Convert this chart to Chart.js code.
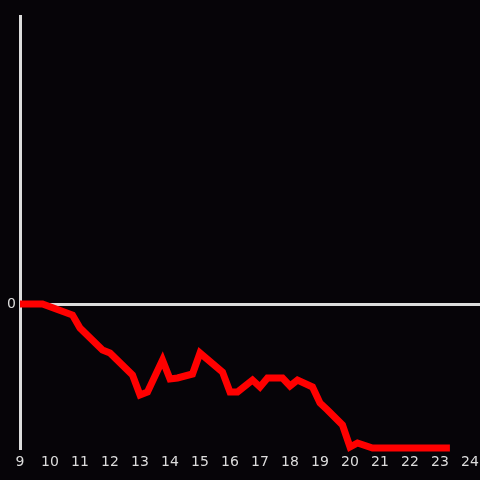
<!DOCTYPE html>
<html>
<head>
<meta charset="utf-8">
<script src="https://cdn.jsdelivr.net/npm/chart.js@4/dist/chart.umd.min.js"></script>
<style>
  html, body { margin: 0; padding: 0; background: #060408; }
  #wrap { width: 480px; height: 480px; }
</style>
</head>
<body>
<div id="wrap"><canvas id="chart"></canvas></div>
<script>
// hours of the day and the value at each point
const hours = [9, 9.75, 10.75, 11, 11.75, 12, 12.75, 13, 13.25, 13.75, 14, 14.25, 14.75, 15,
  15.75, 16, 16.25, 16.75, 17, 17.25, 17.75, 18, 18.25, 18.75, 19, 19.25, 19.75, 20, 20.25,
  20.75, 23.33];
const values = [0, 0, -11, -24, -46, -49, -71, -91, -88, -56, -75, -74, -70, -49,
  -68, -88, -88, -76, -83, -74, -74, -82, -76, -83, -99, -106, -121, -143, -139,
  -144, -144];
const yTicks = [0];

const points = hours.map((h, i) => ({ x: h, y: values[i] }));
const axisColor = '#dcdcdc';

new Chart(document.getElementById('chart'), {
  type: 'line',
  data: {
    datasets: [{
      data: points,
      borderColor: '#ff0000',
      borderWidth: 7,
      pointRadius: 0,
      tension: 0,
      clip: false,
    }],
  },
  options: {
    responsive: true,
    maintainAspectRatio: false,
    animation: false,
    layout: { padding: { top: 16, left: 0, right: 0, bottom: 0 } },
    plugins: { legend: { display: false }, tooltip: { enabled: false } },
    scales: {
      x: {
        type: 'linear',
        min: 9,
        max: 24 + 1 / 3,
        afterBuildTicks: (axis) => {
          axis.ticks = [];
          for (let h = 9; h <= 24; h++) axis.ticks.push({ value: h });
        },
        afterFit: (axis) => { axis.height = 32; },
        grid: { display: false, tickLength: 6 },
        border: { display: false },
        ticks: {
          color: axisColor,
          font: { family: 'DejaVu Sans', size: 14 },
          padding: 0,
          maxRotation: 0,
        },
      },
      y: {
        min: -144,
        max: 288,
        afterBuildTicks: (axis) => { axis.ticks = yTicks.map(v => ({ value: v })); },
        afterFit: (axis) => { axis.width = 20; },
        grid: {
          color: axisColor,
          lineWidth: 3,
          drawTicks: false,
        },
        border: { display: true, color: axisColor, width: 3 },
        ticks: {
          color: axisColor,
          font: { family: 'DejaVu Sans', size: 14 },
          padding: 4,
        },
      },
    },
  },
});
</script>
</body>
</html>
